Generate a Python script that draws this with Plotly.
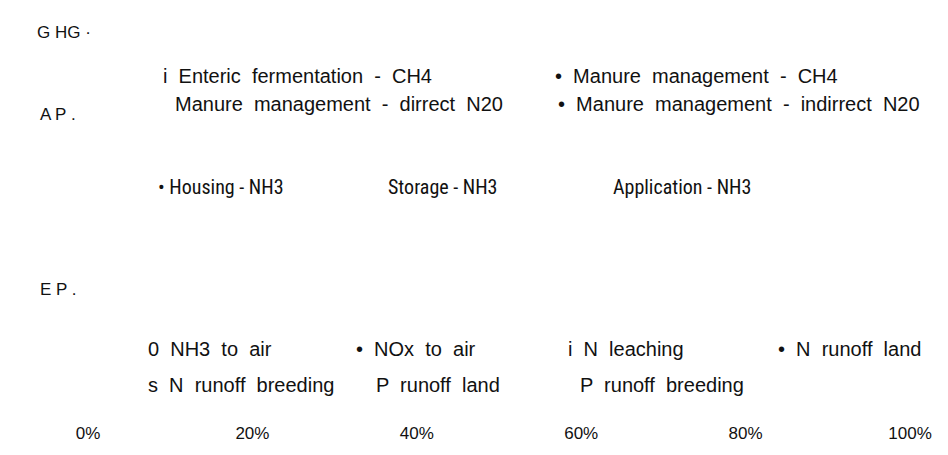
import plotly.graph_objects as go

# категорії (підписи рядків, як на рисунку)
categories = ["G HG ·", "A P .", "E P ."]

# підписи серій для кожної категорії
ghg_series = ["i Enteric fermentation - CH4", "• Manure management - CH4",
              "Manure management - dirrect N20", "• Manure management - indirrect N20"]
ap_series = ["• Housing - NH3", "Storage - NH3", "Application - NH3"]
ep_series = ["0 NH3 to air", "• NOx to air", "i N leaching", "• N runoff land",
             "s N runoff breeding", "P runoff land", "P runoff breeding"]

tick_values = [0, 20, 40, 60, 80, 100]
tick_labels = ["0%", "20%", "40%", "60%", "80%", "100%"]

FONT = "Liberation Sans, Arial, sans-serif"
NARROW = "Liberation Sans Narrow, Arial Narrow, Roboto Condensed, sans-serif"
L, R = 80, 46
W = 948 - L - R

fig = go.Figure()

# вісь y у пікселях (зверху вниз), вісь x у відсотках
fig.update_layout(
    width=948, height=455,
    margin=dict(l=L, r=R, t=10, b=42),
    paper_bgcolor="white", plot_bgcolor="white",
    showlegend=False,
    font=dict(family=FONT, color="#111111", size=16),
    xaxis=dict(range=[0, 100], tickvals=tick_values, ticktext=tick_labels,
               showgrid=False, zeroline=False, showline=False, ticks="",
               tickfont=dict(size=17, family=FONT)),
    yaxis=dict(range=[413, 10], visible=False),
)

def wide(s):
    # ширші пробіли між словами, як на оригіналі
    return s.replace(" ", " \u00a0")

# підписи категорій (ліворуч)
cat_pos = [(27, 24), (30, 106), (30, 281)]
for name, (xp, yp) in zip(categories, cat_pos):
    fig.add_annotation(x=(xp - L) / W, y=yp, xref="paper", yref="y", text=name,
                       showarrow=False, xanchor="left", yanchor="middle",
                       font=dict(size=17))

# легенди: позиції та шрифти для кожної групи
ghg_pos = [(153, 68), (545, 68), (165, 96), (548, 96)]
ap_pos = [(148, 179), (378, 179), (603, 179)]
ep_pos = [(138, 341), (346, 341), (558, 341), (768, 341),
          (138, 377), (366, 377), (570, 377)]

groups = [(ghg_series, ghg_pos, 20, FONT, True),
          (ap_series, ap_pos, 20, NARROW, False),
          (ep_series, ep_pos, 20, FONT, True)]

for labels, positions, fsize, family, spaced in groups:
    for txt, (xp, yp) in zip(labels, positions):
        fig.add_annotation(x=(xp - L) / W, y=yp, xref="paper", yref="y",
                           text=wide(txt) if spaced else txt,
                           showarrow=False, xanchor="left", yanchor="middle",
                           font=dict(size=fsize, family=family))

fig.write_html("out.html")
